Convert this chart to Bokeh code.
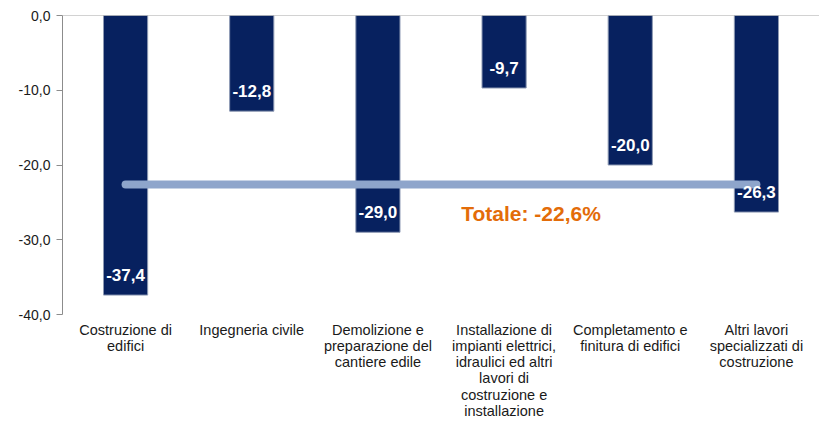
from bokeh.plotting import figure
from bokeh.models import ColumnDataSource, FixedTicker, Span
from bokeh.core.properties import value
from bokeh.embed import file_html
from bokeh.resources import INLINE

categories = [
    "Costruzione di\nedifici",
    "Ingegneria civile",
    "Demolizione e\npreparazione del\ncantiere edile",
    "Installazione di\nimpianti elettrici,\nidraulici ed altri\nlavori di\ncostruzione e\ninstallazione",
    "Completamento e\nfinitura di edifici",
    "Altri lavori\nspecializzati di\ncostruzione",
]
values = [-37.4, -12.8, -29.0, -9.7, -20.0, -26.3]
total = -22.6
y_ticks = [0, -10, -20, -30, -40]

def fmt(v):
    return f"{v:.1f}".replace(".", ",")

src = ColumnDataSource(dict(cat=categories, val=values, lab=[fmt(v) for v in values]))

p = figure(x_range=categories, y_range=(-40, 0), width=819, height=423,
           output_backend="svg", toolbar_location=None,
           min_border_left=62, min_border_right=0, min_border_top=15, min_border_bottom=109)
p.outline_line_color = None
p.grid.grid_line_color = None
p.background_fill_color = "white"

p.vbar(x="cat", top=0, bottom="val", width=0.35, source=src,
       fill_color="#07215F", line_color="#8D99B3", line_width=1)

p.segment(x0=[categories[0]], y0=[total], x1=[categories[-1]], y1=[total],
          line_color="#8EA5CB", line_width=8, line_cap="round")

p.text(x="cat", y="val", text="lab", source=src, text_align="center",
       text_baseline="middle", y_offset=-20, text_color="white",
       text_font=value("Liberation Sans"), text_font_style="bold", text_font_size="17px")

p.text(x=[categories[3]], y=[-26.5], text=[f"Totale: {fmt(total)}%"],
       text_align="center", text_baseline="middle", x_offset=27,
       text_color="#E36C09", text_font=value("Liberation Sans"),
       text_font_style="bold", text_font_size="21px")

p.add_layout(Span(location=0, dimension="width", line_color="#A6A6A6", line_width=1))

ya = p.yaxis[0]
ya.ticker = FixedTicker(ticks=y_ticks)
ya.major_label_overrides = {t: fmt(t) for t in y_ticks}
ya.axis_line_color = "#8C8C8C"
ya.major_tick_line_color = "#8C8C8C"
ya.major_tick_out = 6
ya.major_tick_in = 0
ya.minor_tick_line_color = None
ya.major_label_text_font = "Liberation Sans"
ya.major_label_text_font_size = "14px"
ya.major_label_text_color = "#1a1a1a"
ya.major_label_standoff = 6

xa = p.xaxis[0]
xa.axis_line_color = None
xa.major_tick_line_color = None
xa.minor_tick_line_color = None
xa.major_label_text_font = "Liberation Sans"
xa.major_label_text_font_size = "14.5px"
xa.major_label_text_color = "#1a1a1a"
xa.major_label_standoff = 1
xa.major_label_text_line_height = 1.02

open("out.html", "w").write(file_html(p, INLINE))
